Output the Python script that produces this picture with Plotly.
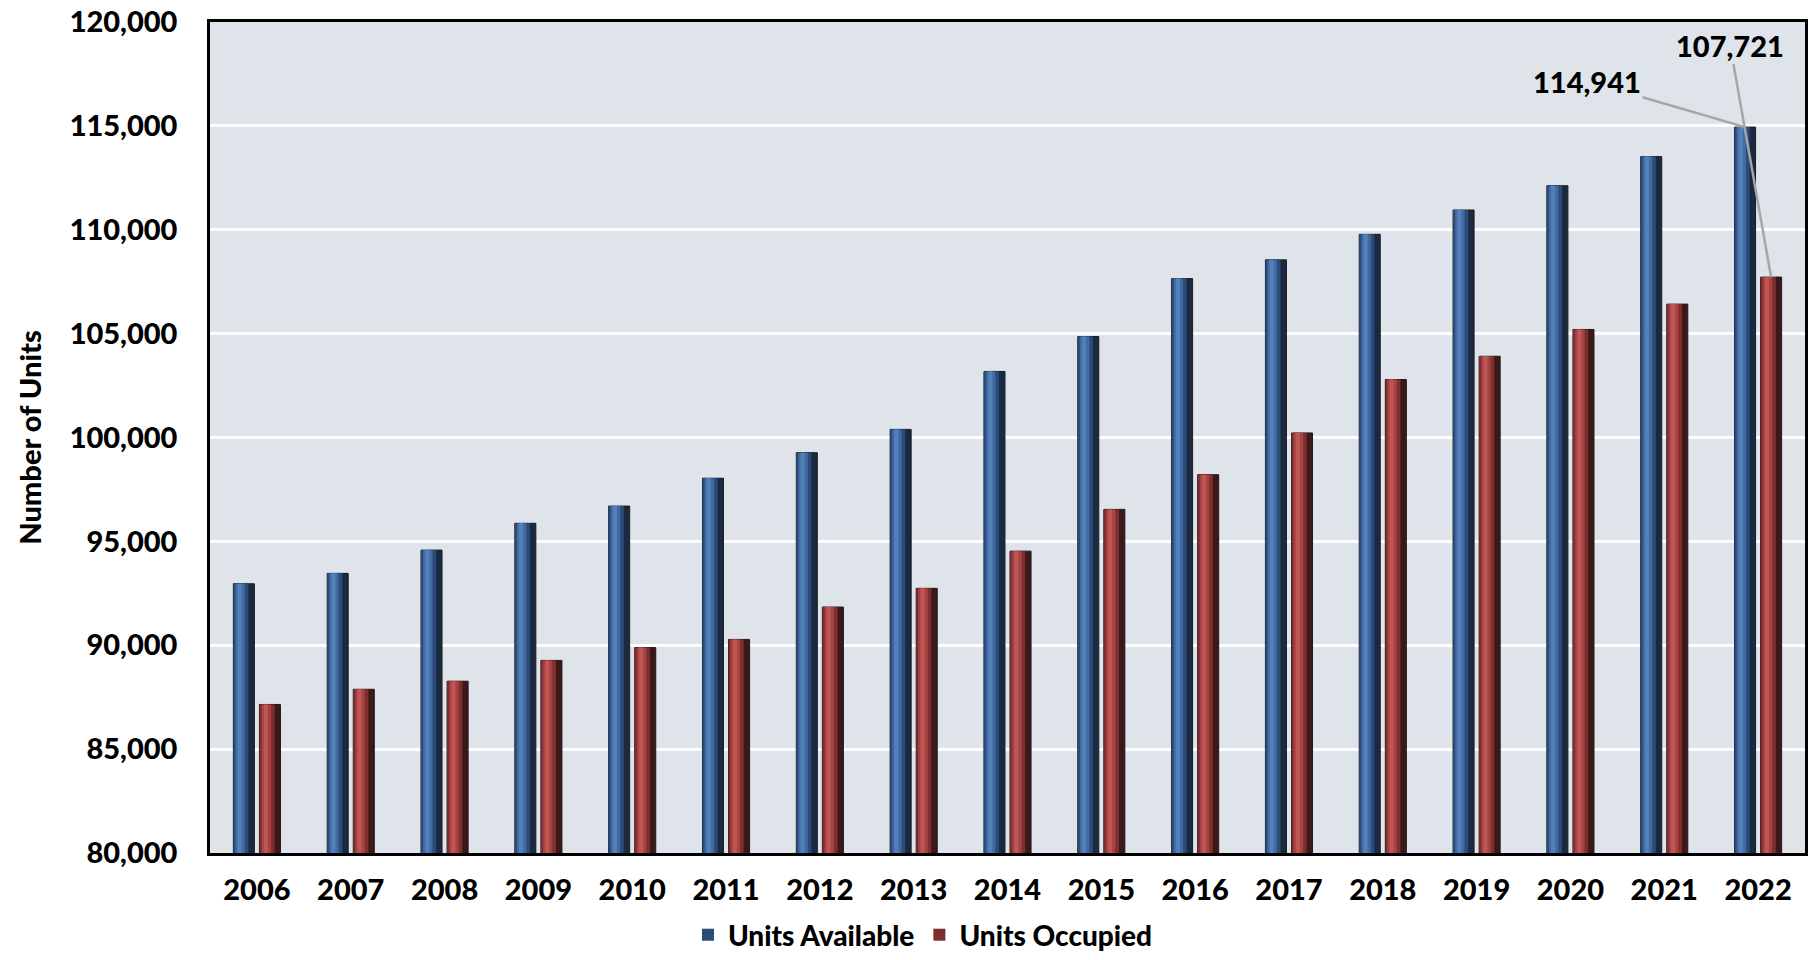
import plotly.graph_objects as go

years = [str(y) for y in range(2006, 2023)]
units_available = [92960, 93460, 94580, 95870, 96700, 98040, 99270, 100390, 103180,
                   104860, 107650, 108550, 109780, 110950, 112120, 113520, 114941]
units_occupied = [87150, 87880, 88270, 89270, 89890, 90280, 91840, 92740, 94530,
                  96540, 98210, 100220, 102790, 103910, 105200, 106420, 107721]
y_ticks = list(range(80000, 120001, 5000))

FONT = "Lato"
WEIGHT = 900
W = 0.224  # bar width in category units
blue_layers = [("#1a2a40", 1.0, 0.0), ("#2c4b78", 0.72, 0.0), ("#3f6aa3", 0.45, 0.1), ("#5480ba", 0.2, 0.2)]
red_layers = [("#3e1818", 1.0, 0.0), ("#7d2f2f", 0.72, 0.0), ("#a84141", 0.45, 0.1), ("#bf5656", 0.2, 0.2)]

fig = go.Figure()

def add_series(vals, name, layers, off):
    for i, (col, frac, start) in enumerate(layers):
        fig.add_trace(go.Bar(
            x=years, y=vals, name=name,
            width=[W * frac] * len(years), offset=[off + W * start] * len(years),
            marker=dict(color=col, line=dict(color="#1b1b22" if i == 0 else col, width=1 if i == 0 else 0)),
            showlegend=(i == 1), legendgroup=name,
        ))

add_series(units_available, "Units Available", blue_layers, -0.251)
add_series(units_occupied, "Units Occupied", red_layers, 0.027)

fig.update_layout(
    width=1816, height=960,
    barmode="overlay",
    plot_bgcolor="#dee4ea",
    paper_bgcolor="white",
    margin=dict(l=210, r=11, t=22, b=107, autoexpand=False),
    font=dict(family=FONT, color="black", size=26, weight=WEIGHT),
    legend=dict(orientation="h", x=0.447, xanchor="center",
                yref="container", y=-0.009, yanchor="bottom",
                font=dict(size=28, family=FONT, weight=WEIGHT), traceorder="normal"),
)

fig.update_yaxes(
    range=[80000, 120000],
    tickvals=y_ticks,
    ticktext=[f"{v:,}" for v in y_ticks],
    showgrid=True, gridcolor="white", gridwidth=2.5,
    showline=True, linecolor="black", linewidth=2.5, mirror=True,
    ticks="", ticklabelstandoff=24, automargin=False,
    tickfont=dict(size=29, family=FONT, weight=WEIGHT),
    title=dict(text="Number of Units", standoff=20, font=dict(size=29, family=FONT, weight=WEIGHT)),
    zeroline=False,
)
fig.update_xaxes(
    type="category", categoryorder="array", categoryarray=years,
    range=[-0.5, len(years) - 0.5],
    showline=True, linecolor="black", linewidth=2.5, mirror=True,
    ticks="", ticklabelstandoff=9, automargin=False,
    tickfont=dict(size=29, family=FONT, weight=WEIGHT),
)

last = len(years) - 1
fig.add_annotation(x=last, y=units_available[-1], xshift=-13,
                   text=f"{units_available[-1]:,}", showarrow=True, arrowhead=0,
                   arrowcolor="#a6a6a6", arrowwidth=2.5, ax=-158, ay=-46,
                   font=dict(size=29, family=FONT, weight=WEIGHT))
fig.add_annotation(x=last, y=units_occupied[-1], xshift=13,
                   text=f"{units_occupied[-1]:,}", showarrow=True, arrowhead=0,
                   arrowcolor="#a6a6a6", arrowwidth=2.5, ax=-41, ay=-232,
                   font=dict(size=29, family=FONT, weight=WEIGHT))

fig.write_html("out.html")
